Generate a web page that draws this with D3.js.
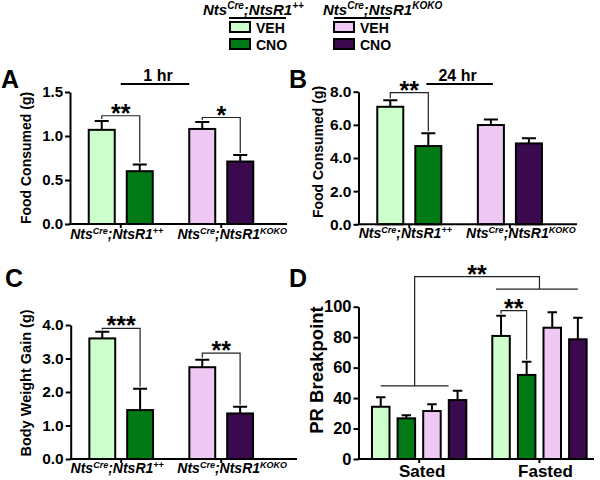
<!DOCTYPE html>
<html><head><meta charset="utf-8">
<script src="https://cdn.jsdelivr.net/npm/d3@7"></script>
<style>body{margin:0;background:#fff}svg{display:block}</style>
</head><body><svg id="c" width="600" height="480"></svg>
<script>
// ---------- data ----------
const genotypes = ["++", "KOKO"];          // superscript of NtsR1
const conditions = ["VEH", "CNO"];
const seriesKeys = ["VEH ++", "CNO ++", "VEH KOKO", "CNO KOKO"];
const seriesColors = ["#ccffcc", "#007a14", "#efc9f4", "#3b0a4e"];

const food1hMean = [1.07, 0.60, 1.08, 0.71];
const food1hSem  = [0.10, 0.075, 0.08, 0.075];
const food24hMean = [7.09, 4.72, 5.99, 4.88];
const food24hSem  = [0.40, 0.78, 0.33, 0.31];
const bwGainMean = [3.60, 1.46, 2.74, 1.36];
const bwGainSem  = [0.20, 0.64, 0.22, 0.20];

const states = ["Sated", "Fasted"];
const prSatedMean  = [34.3, 26.7, 31.5, 38.7];
const prSatedSem   = [6.2, 2.0, 4.5, 6.1];
const prFastedMean = [80.8, 55.2, 86.2, 78.6];
const prFastedSem  = [13.3, 8.7, 10.1, 14.2];

const ticksA = [0, 0.5, 1.0, 1.5];
const ticksB = [0, 2, 4, 6, 8];
const ticksC = [0, 1, 2, 3, 4];
const ticksD = [0, 20, 40, 60, 80, 100];

// ---------- drawing ----------
const FONT = "'Liberation Sans', Arial, sans-serif";
const svg = d3.select("#c");
svg.append("rect").attr("width", 600).attr("height", 480).attr("fill", "#fff");

function txt(g, x, y, s, size, opts = {}) {
  return g.append("text").attr("x", x).attr("y", y).text(s)
    .attr("font-family", FONT).attr("font-weight", "bold")
    .attr("font-size", size).attr("fill", "#000")
    .attr("text-anchor", opts.anchor || "start")
    .attr("font-style", opts.italic ? "italic" : "normal");
}

function genoLabel(g, x, y, sup, mainSize, supSize, anchor) {
  const t = g.append("text").attr("x", x).attr("y", y)
    .attr("font-family", FONT).attr("font-weight", "bold").attr("font-style", "italic")
    .attr("font-size", mainSize).attr("fill", "#000").attr("text-anchor", anchor);
  t.append("tspan").text("Nts");
  t.append("tspan").attr("font-size", supSize).attr("dy", -mainSize * 0.38).text("Cre");
  t.append("tspan").attr("dy", mainSize * 0.38).text(";NtsR1");
  t.append("tspan").attr("font-size", supSize).attr("dy", -mainSize * 0.38).text(sup);
  return t;
}

function barPanel(o) {
  const g = svg.append("g");
  const y = d3.scaleLinear().domain([0, o.yMax]).range([o.yBottom, o.yTop]);
  const gx = d3.scaleBand().domain(o.groups)
    .range([o.axisX + 0.5, o.axisX + 0.5 + o.groupStep * o.groups.length]);
  const sx = d3.scaleBand().domain(o.subs).range([0, gx.bandwidth()])
    .paddingInner(0.316).paddingOuter(o.subPadOuter);
  const bw = sx.bandwidth();
  const cx = (gr, sb) => gx(gr) + sx(sb) + bw / 2;

  g.selectAll("rect.bar").data(o.bars).join("rect").attr("class", "bar")
    .attr("x", d => gx(d.group) + sx(d.sub))
    .attr("y", d => y(d.mean))
    .attr("width", bw)
    .attr("height", d => y(0) - y(d.mean))
    .attr("fill", d => d.color).attr("stroke", "#000").attr("stroke-width", 2);
  g.selectAll("path.err").data(o.bars).join("path").attr("class", "err")
    .attr("d", d => {
      const c = cx(d.group, d.sub), t = y(d.mean + d.sem), w = bw * 0.27;
      return `M${c},${y(d.mean)}V${t}M${c - w},${t}H${c + w}`;
    })
    .attr("fill", "none").attr("stroke", "#000").attr("stroke-width", 2);

  const ya = g.append("g").attr("transform", `translate(${o.axisX},0)`)
    .call(d3.axisLeft(y).tickValues(o.ticks).tickFormat(o.fmt)
      .tickSize(5).tickSizeOuter(0).tickPadding(2));
  ya.selectAll("path,line").attr("stroke", "#000").attr("stroke-width", 2);
  ya.selectAll("text").attr("font-family", FONT).attr("font-weight", "bold")
    .attr("font-size", o.tickFont).attr("fill", "#000");
  g.append("line").attr("x1", o.axisX - 1).attr("x2", o.xEnd)
    .attr("y1", y(0)).attr("y2", y(0)).attr("stroke", "#000").attr("stroke-width", 2);
  g.selectAll("line.xt").data(o.groups).join("line").attr("class", "xt")
    .attr("x1", d => gx(d) + gx.bandwidth() / 2).attr("x2", d => gx(d) + gx.bandwidth() / 2)
    .attr("y1", y(0)).attr("y2", y(0) + 4).attr("stroke", "#000").attr("stroke-width", 2);

  txt(g, 0, 0, o.title, o.titleSize, { anchor: "middle" })
    .attr("transform", `translate(${o.titleX},${o.titleY}) rotate(-90)`);
  txt(g, o.letterX, o.letterY, o.letter, 25);
  return { g, y, gx, sx, cx, bw };
}

function bracket(p, xL, xR, yv, leftTop, rightTop, label) {
  const yy = p.y(yv);
  p.g.append("path")
    .attr("d", `M${xL},${p.y(leftTop) - 2}V${yy}H${xR}V${p.y(rightTop) - 2}`)
    .attr("fill", "none").attr("stroke", "#222").attr("stroke-width", 1.2);
  txt(p.g, (xL + xR) / 2, yy + 6, label, 25, { anchor: "middle" });
}

function genoBars(means, sems) {
  return means.map((m, i) => ({
    group: genotypes[Math.floor(i / 2)], sub: conditions[i % 2],
    mean: m, sem: sems[i], color: seriesColors[i]
  }));
}

const labelShift = [-4, 11];

// ---- Panel A ----
const A = barPanel({
  axisX: 70, yBottom: 224, yTop: 92, yMax: 1.5, ticks: ticksA, fmt: d3.format(".1f"),
  groups: genotypes, subs: conditions, groupStep: 100.5, subPadOuter: 0.48, xEnd: 287,
  bars: genoBars(food1hMean, food1hSem), tickFont: 15,
  title: "Food Consumed (g)", titleSize: 14, titleX: 31, titleY: 158,
  letter: "A", letterX: 1, letterY: 88
});
genotypes.forEach((gt, i) => genoLabel(A.g, A.gx(gt) + A.gx.bandwidth() / 2 + labelShift[i], 239, gt, 14, 9, "middle"));
bracket(A, A.cx("++", "VEH"), A.cx("++", "CNO"), 1.23, food1hMean[0] + food1hSem[0], food1hMean[1] + food1hSem[1], "**");
bracket(A, A.cx("KOKO", "VEH"), A.cx("KOKO", "CNO"), 1.21, food1hMean[2] + food1hSem[2], food1hMean[3] + food1hSem[3], "*");
{
  const x1 = A.gx("++") + A.gx.bandwidth() / 2, x2 = A.gx("KOKO") + A.sx("VEH");
  A.g.append("line").attr("x1", x1).attr("x2", x2).attr("y1", 84).attr("y2", 84)
    .attr("stroke", "#000").attr("stroke-width", 2);
  txt(A.g, (x1 + x2) / 2 + 3, 81, "1 hr", 16, { anchor: "middle" });
}

// ---- Panel B ----
const B = barPanel({
  axisX: 358.5, yBottom: 224.3, yTop: 91.7, yMax: 8, ticks: ticksB, fmt: d3.format(".1f"),
  groups: genotypes, subs: conditions, groupStep: 100.6, subPadOuter: 0.48, xEnd: 577,
  bars: genoBars(food24hMean, food24hSem), tickFont: 15.5,
  title: "Food Consumed (g)", titleSize: 14, titleX: 323, titleY: 152,
  letter: "B", letterX: 289, letterY: 88
});
genotypes.forEach((gt, i) => genoLabel(B.g, B.gx(gt) + B.gx.bandwidth() / 2 + labelShift[i], 238, gt, 14, 9, "middle"));
bracket(B, B.cx("++", "VEH"), B.cx("++", "CNO"), 7.95, food24hMean[0] + food24hSem[0], food24hMean[1] + food24hSem[1], "**");
{
  const x1 = B.cx("++", "CNO") - 2, x2 = B.cx("KOKO", "VEH") + 2;
  B.g.append("line").attr("x1", x1).attr("x2", x2).attr("y1", 84).attr("y2", 84)
    .attr("stroke", "#000").attr("stroke-width", 2);
  txt(B.g, (x1 + x2) / 2 - 2, 81, "24 hr", 16, { anchor: "middle" });
}

// ---- Panel C ----
const C = barPanel({
  axisX: 70.7, yBottom: 459, yTop: 325, yMax: 4, ticks: ticksC, fmt: d3.format(".1f"),
  groups: genotypes, subs: conditions, groupStep: 100, subPadOuter: 0.48, xEnd: 297,
  bars: genoBars(bwGainMean, bwGainSem), tickFont: 15.5,
  title: "Body Weight Gain (g)", titleSize: 14.5, titleX: 31, titleY: 383,
  letter: "C", letterX: 5, letterY: 287
});
genotypes.forEach((gt, i) => genoLabel(C.g, C.gx(gt) + C.gx.bandwidth() / 2 + labelShift[i], 473, gt, 14, 9, "middle"));
bracket(C, C.cx("++", "VEH"), C.cx("++", "CNO"), 3.9, bwGainMean[0] + bwGainSem[0], bwGainMean[1] + bwGainSem[1], "***");
bracket(C, C.cx("KOKO", "VEH"), C.cx("KOKO", "CNO"), 3.16, bwGainMean[2] + bwGainSem[2], bwGainMean[3] + bwGainSem[3], "**");

// ---- Panel D ----
const dBars = [];
states.forEach((st, si) => {
  const m = si === 0 ? prSatedMean : prFastedMean, s = si === 0 ? prSatedSem : prFastedSem;
  seriesKeys.forEach((k, i) => dBars.push({ group: st, sub: k, mean: m[i], sem: s[i], color: seriesColors[i] }));
});
const D = barPanel({
  axisX: 358.5, yBottom: 459, yTop: 306.7, yMax: 100, ticks: ticksD, fmt: d3.format("d"),
  groups: states, subs: seriesKeys, groupStep: 120.3, subPadOuter: 0.507, xEnd: 594,
  bars: dBars, tickFont: 16.5,
  title: "PR Breakpoint", titleSize: 18.5, titleX: 323, titleY: 370,
  letter: "D", letterX: 289, letterY: 287
});
states.forEach((st, i) => txt(D.g, D.gx(st) + D.gx.bandwidth() / 2 + [3, 6][i], 477, st, 17, { anchor: "middle" }));
{
  const line = (x1, y1, x2, y2) => D.g.append("line").attr("x1", x1).attr("y1", y1).attr("x2", x2).attr("y2", y2)
    .attr("stroke", "#222").attr("stroke-width", 1.2);
  const sL = D.cx("Sated", seriesKeys[0]), sR = D.cx("Sated", seriesKeys[3]) - 9;
  const fL = D.cx("Fasted", seriesKeys[0]) - 5, fR = D.cx("Fasted", seriesKeys[3]);
  const ySated = D.y(48), yFasted = D.y(111.6), yTop = D.y(119.7);
  const sMid = (sL + sR) / 2, fMid = D.gx("Fasted") + D.gx.bandwidth() / 2;
  line(sL, ySated, sR, ySated);
  line(fL, yFasted, fR, yFasted);
  D.g.append("path").attr("d", `M${sMid},${ySated}V${yTop}H${fMid}V${yFasted}`)
    .attr("fill", "none").attr("stroke", "#222").attr("stroke-width", 1.2);
  txt(D.g, (sMid + fMid) / 2, yTop + 6, "**", 25, { anchor: "middle" });
}
bracket(D, D.cx("Fasted", seriesKeys[0]), D.cx("Fasted", seriesKeys[1]), 97.4,
  prFastedMean[0] + prFastedSem[0], prFastedMean[1] + prFastedSem[1], "**");

// ---- Legend ----
const L = svg.append("g");
[[203, 0], [323, 1]].forEach(([x0, gi]) => {
  genoLabel(L, x0, 15, genotypes[gi], 15, 10, "start");
  const ux = gi === 0 ? [229, 286] : [334, 390];
  L.append("line").attr("x1", ux[0]).attr("x2", ux[1]).attr("y1", 18).attr("y2", 18)
    .attr("stroke", "#000").attr("stroke-width", 2);
  conditions.forEach((c, ci) => {
    const bx = gi === 0 ? 230 : 334, by = 22 + ci * 17;
    L.append("rect").attr("x", bx).attr("y", by).attr("width", 20).attr("height", 10)
      .attr("fill", seriesColors[gi * 2 + ci]).attr("stroke", "#000").attr("stroke-width", 2);
    txt(L, bx + 26, by + 10.5, c, 14);
  });
});
</script>
</body></html>
